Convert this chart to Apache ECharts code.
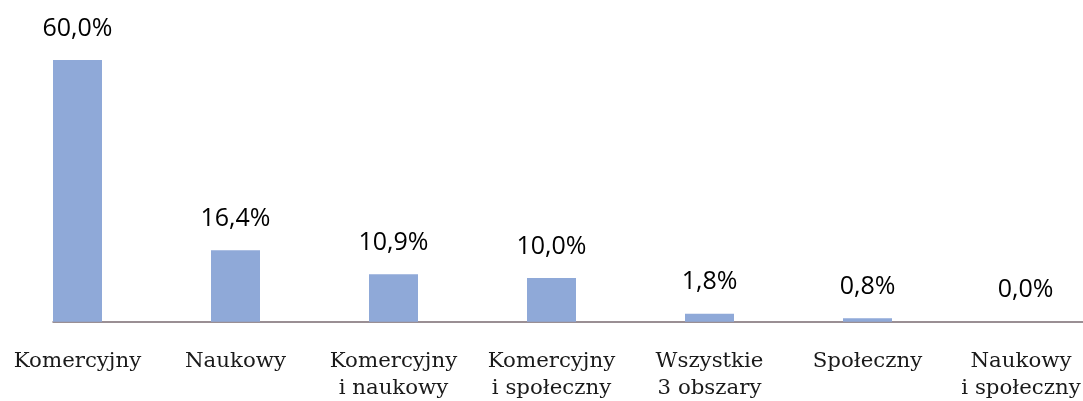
<!DOCTYPE html>
<html>
<head>
<meta charset="utf-8">
<script src="https://cdn.jsdelivr.net/npm/echarts@6/dist/echarts.min.js"></script>
<style>html,body{margin:0;padding:0;background:#fff;}#c{width:1083px;height:401px;}</style>
</head>
<body>
<div id="c"></div>
<script>
const categories = ['Komercyjny', 'Naukowy', 'Komercyjny\ni naukowy', 'Komercyjny\ni społeczny', 'Wszystkie\n3 obszary', 'Społeczny', 'Naukowy\ni społeczny'];
const values = [60.0, 16.4, 10.9, 10.0, 1.8, 0.8, 0.0];

const categoryItems = categories.map((c, i) =>
  i === categories.length - 1 ? { value: c, textStyle: { padding: [0, 9, 0, 0] } } : c
);

const chart = echarts.init(document.getElementById('c'));
chart.setOption({
  animation: false,
  grid: [
    { left: -1.5, width: 1106, top: 60, bottom: 79.3, outerBoundsMode: 'none', containLabel: false },
    { left: 53, right: 0, top: 60, bottom: 79.3, outerBoundsMode: 'none', containLabel: false }
  ],
  xAxis: [
    {
      type: 'category', data: categoryItems, gridIndex: 0,
      axisLine: { show: false }, axisTick: { show: false },
      axisLabel: { interval: 0, fontFamily: 'DejaVu Serif', fontSize: 21.3, color: '#1a1a1a', lineHeight: 27, margin: 26 }
    },
    {
      type: 'value', gridIndex: 1, min: 0, max: 1, position: 'bottom',
      axisLine: { show: true, onZero: false, lineStyle: { color: '#7a6b71', width: 1.5 } },
      axisTick: { show: false }, axisLabel: { show: false }, splitLine: { show: false }
    }
  ],
  yAxis: [
    { type: 'value', gridIndex: 0, min: 0, max: 60, show: false },
    { type: 'value', gridIndex: 1, min: 0, max: 1, show: false }
  ],
  series: [{
    type: 'bar', data: values, barWidth: 49, xAxisIndex: 0, yAxisIndex: 0,
    itemStyle: { color: '#8FA9D8' },
    label: {
      show: true, position: 'top', distance: 19,
      fontFamily: 'Open Sans', fontSize: 25, color: '#000',
      formatter: p => p.value.toFixed(1).replace('.', ',') + '%'
    }
  }]
});
</script>
</body>
</html>
